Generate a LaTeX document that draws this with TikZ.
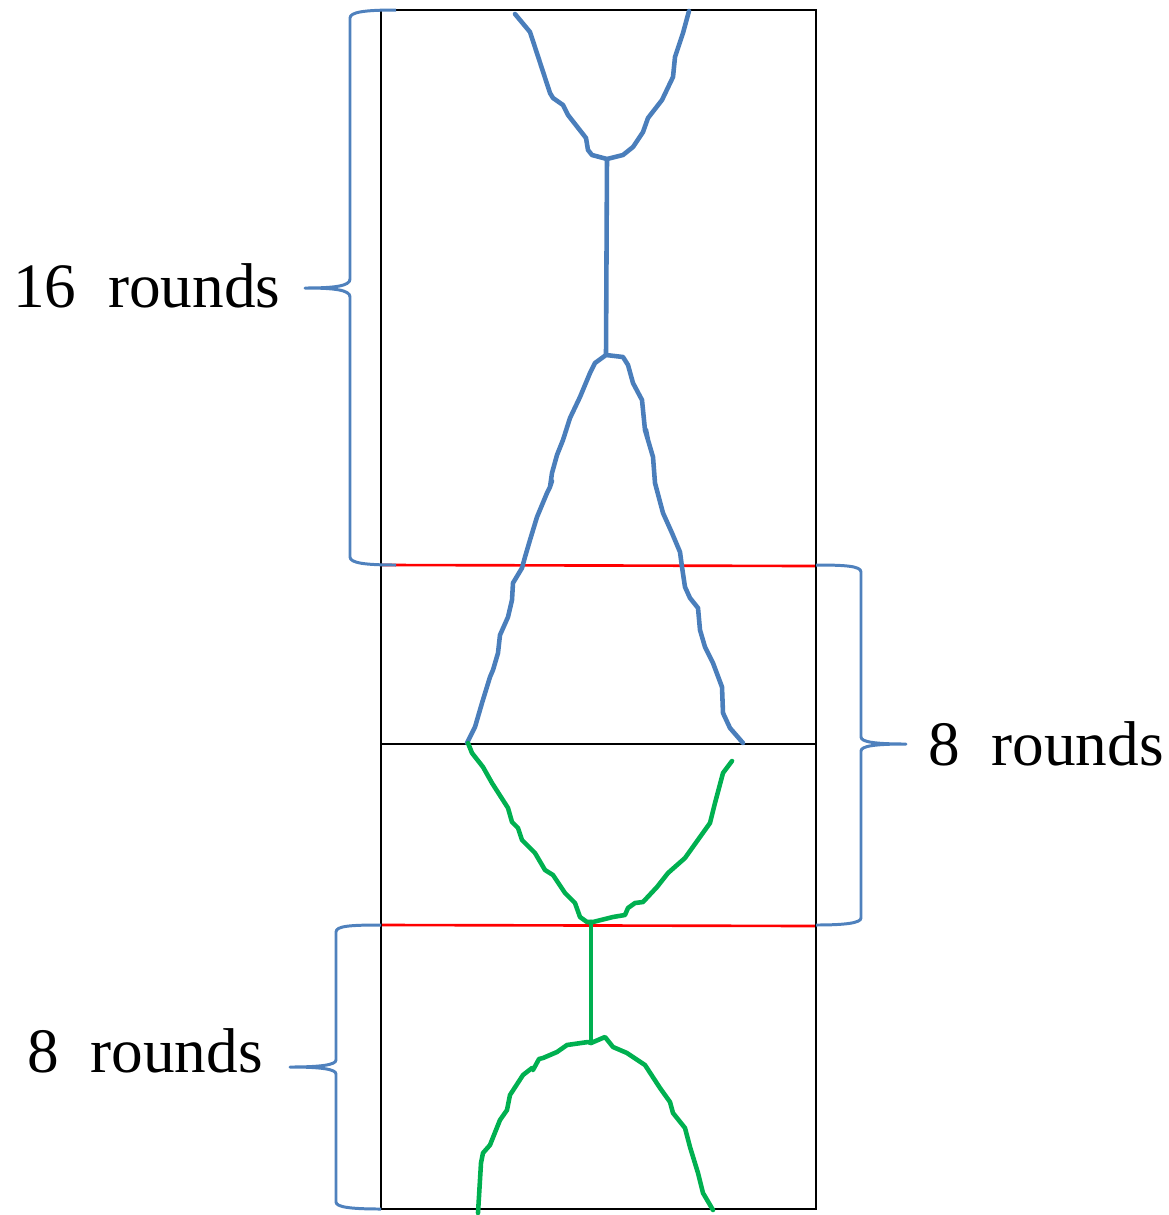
\documentclass[tikz,border=0pt]{standalone}
\usepackage{fontspec}
\setmainfont{Liberation Serif}
\begin{document}
\begin{tikzpicture}[x=0.02cm,y=-0.02cm,
  frame/.style={draw=black,line width=1.6pt},
  cutline/.style={draw=red,line width=1.5pt},
  bluecurve/.style={draw=ablue,line width=2.6pt,line join=round,line cap=round},
  greencurve/.style={draw=agreen,line width=2.6pt,line join=round,line cap=round},
  bracestyle/.style={draw=bblue,line width=1.7pt,line join=round},
  lbl/.style={font=\fontsize{36}{42}\selectfont,inner sep=0pt,anchor=base west}]
\definecolor{ablue}{HTML}{4A7EBB}
\definecolor{bblue}{HTML}{4F81BD}
\definecolor{agreen}{HTML}{00B050}
\useasboundingbox (0,0) rectangle (1169,1215);
% frame coordinates
\coordinate (tl) at (381,10);
\coordinate (tr) at (816,10);
\coordinate (bl) at (381,1209);
\coordinate (br) at (816,1209);
\coordinate (r1l) at (381,565);
\coordinate (r1r) at (816,566);
\coordinate (ml) at (381,744);
\coordinate (mr) at (816,744);
\coordinate (r2l) at (381,925);
\coordinate (r2r) at (816,926);
% red lines
\draw[cutline] (r1l) -- (r1r);
\draw[cutline] (r2l) -- (r2r);
% frame
\draw[frame] (tl) rectangle (br);
\draw[frame] (ml) -- (mr);
% blue top funnel
\draw[bluecurve] (515,14) -- (530,32) -- (550,93) -- (553,98) -- (563,105) -- (568,115) -- (586,138) -- (588,150) -- (592,155) -- (607,159)
  -- (623,155) -- (633,147) -- (643,132) -- (648,118) -- (662,100) -- (673,77) -- (675,57) -- (683,33) -- (689,11);
\coordinate (s1a) at (607,159);
\coordinate (s1b) at (606,355);
\draw[bluecurve] (s1a) -- (s1b);
% blue long bell
\draw[bluecurve] (467,743) -- (475,727) -- (482,703) -- (490,677) -- (493,670) -- (498,653) -- (500,635) -- (508,617) -- (512,600) -- (513,583) -- (522,568) -- (525,557) -- (530,540)
  -- (537,517) -- (547,493) -- (550,487) -- (552,481) -- (550,487) -- (552,473) -- (557,455) -- (563,440) -- (570,418) -- (580,397) -- (590,373) -- (595,363) -- (606,355)
  -- (623,357) -- (628,365) -- (633,383) -- (642,400) -- (645,430) -- (648,440) -- (646,430) -- (648,440) -- (653,457) -- (655,483) -- (663,513) -- (672,533) -- (680,552)
  -- (682,567) -- (685,587) -- (690,598) -- (698,608) -- (700,630) -- (705,647) -- (713,663) -- (722,687) -- (723,713) -- (730,728) -- (743,743);
% green V
\draw[greencurve] (468,743) -- (472,753) -- (483,767) -- (492,783) -- (508,808) -- (512,822) -- (518,828) -- (522,840) -- (535,853) -- (545,870) -- (553,875) -- (565,893) -- (575,903) -- (580,917) -- (587,922)
  -- (593,922) -- (613,917) -- (625,915) -- (628,908) -- (635,903) -- (643,902) -- (657,887) -- (668,873) -- (685,858) -- (700,837) -- (710,823) -- (715,803) -- (723,773) -- (732,761);
\coordinate (s2a) at (591,922);
\coordinate (s2b) at (591,1043);
\draw[greencurve] (s2a) -- (s2b);
% green dome
\draw[greencurve] (478,1213) -- (481,1163) -- (483,1153) -- (490,1145) -- (492,1140) -- (500,1120) -- (507,1110) -- (510,1095) -- (523,1075) -- (532,1068) -- (533,1070) -- (539,1059) -- (543,1058) -- (557,1052) -- (567,1045) -- (588,1042)
  -- (591,1043) -- (605,1037) -- (613,1047) -- (627,1053) -- (645,1065) -- (660,1088) -- (670,1102) -- (673,1113) -- (685,1128) -- (690,1147) -- (698,1173) -- (703,1193) -- (713,1210);
% braces
\coordinate (b1top) at (396,10);
\coordinate (b1bot) at (396,565);
\coordinate (b1tip) at (305,288);
\draw[bracestyle] (b1top) .. controls (365,10) and (350,12) .. (350,18) -- (350,279)
  .. controls (350,286) and (335,288) .. (b1tip) .. controls (335,288) and (350,290) .. (350,297)
  -- (350,557) .. controls (350,563) and (365,565) .. (b1bot);
\coordinate (b2top) at (816,565);
\coordinate (b2bot) at (816,925);
\coordinate (b2tip) at (906,744);
\draw[bracestyle] (b2top) .. controls (845,565) and (861,566) .. (861,572) -- (861,737)
  .. controls (861,742) and (875,744) .. (b2tip) .. controls (875,744) and (861,746) .. (861,751)
  -- (861,918) .. controls (861,923) and (845,925) .. (b2bot);
\coordinate (b3top) at (381,925);
\coordinate (b3bot) at (381,1209);
\coordinate (b3tip) at (290,1067);
\draw[bracestyle] (b3top) .. controls (350,925) and (336,926) .. (336,932) -- (336,1060)
  .. controls (336,1065) and (320,1067) .. (b3tip) .. controls (320,1067) and (336,1069) .. (336,1074)
  -- (336,1202) .. controls (336,1207) and (350,1209) .. (b3bot);
% labels
\node[lbl] (t1) at (13,307) {16~~rounds};
\node[lbl] (t2) at (928,765) {8~~rounds};
\node[lbl] (t3) at (27,1072) {8~~rounds};
\end{tikzpicture}
\end{document}
